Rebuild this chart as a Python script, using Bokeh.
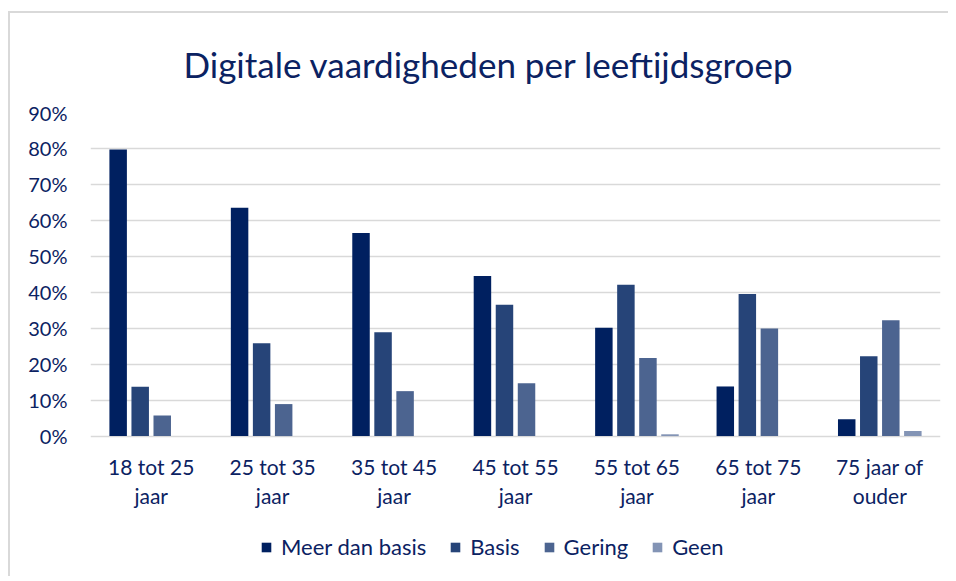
from bokeh.plotting import figure
from bokeh.models import Range1d, FixedTicker, NumeralTickFormatter, Legend, LegendItem, ColumnDataSource
from bokeh.core.properties import value
from bokeh.embed import file_html
from bokeh.resources import INLINE

title_text = "Digitale vaardigheden per leeftijdsgroep"
categories = ["18 tot 25\njaar", "25 tot 35\njaar", "35 tot 45\njaar", "45 tot 55\njaar",
              "55 tot 65\njaar", "65 tot 75\njaar", "75 jaar of\nouder"]
series_names = ["Meer dan basis", "Basis", "Gering", "Geen"]
meer_dan_basis = [0.797, 0.635, 0.565, 0.445, 0.301, 0.138, 0.047]
basis = [0.137, 0.258, 0.289, 0.365, 0.421, 0.395, 0.222]
gering = [0.057, 0.089, 0.125, 0.147, 0.217, 0.299, 0.322]
geen = [0.0, 0.0, 0.0, 0.0, 0.005, 0.0, 0.014]
y_ticks = [0.0, 0.1, 0.2, 0.3, 0.4, 0.5, 0.6, 0.7, 0.8, 0.9]

colors = ["#002060", "#264478", "#4C6490", "#8394B5"]
text_color = "#0B2262"
font = "Lato"

# layout (pixels)
W, H = 940, 565
MB_LEFT, MB_RIGHT, MB_TOP, MB_BOTTOM = 80, 10, 97, 8
PX_PER_UNIT = 361.1            # pixels for 100 %
BELOW_ZERO_PX = 135            # room under the 0 % line for labels and legend
LABEL_CENTER_PX = 45           # centre of the two-line category labels below 0 %

p = figure(width=W, height=H, output_backend="svg", toolbar_location=None,
           x_range=Range1d(0, len(categories)),
           y_range=Range1d(-BELOW_ZERO_PX / PX_PER_UNIT, y_ticks[-1]),
           min_border_left=MB_LEFT, min_border_right=MB_RIGHT,
           min_border_top=MB_TOP, min_border_bottom=MB_BOTTOM)
p.styles = {"border-top": "2px solid #d9d9d9", "border-left": "2px solid #d9d9d9",
            "position": "relative", "left": "8px", "top": "11px"}
p.outline_line_color = None
p.background_fill_color = "white"
p.border_fill_color = "white"

p.title.text = title_text
p.title.text_font = font
p.title.text_font_size = "35px"
p.title.text_font_style = "normal"
p.title.text_color = text_color
p.title.align = "left"
p.title.offset = 93
p.title.standoff = 55

pitch = 0.1815
width = 0.144
all_series = [meer_dan_basis, basis, gering, geen]
items = []
for i, (name, vals) in enumerate(zip(series_names, all_series)):
    xs = [g + 0.5 + (i - 1.5) * pitch for g in range(len(categories))]
    src = ColumnDataSource(dict(x=xs, top=vals))
    r = p.vbar(x="x", top="top", bottom=0, width=width, source=src,
               fill_color=colors[i], line_color=None)
    items.append(LegendItem(label=name, renderers=[r]))

# category labels under the bars
lab_src = ColumnDataSource(dict(x=[g + 0.5 for g in range(len(categories))],
                                y=[-LABEL_CENTER_PX / PX_PER_UNIT] * len(categories),
                                text=categories))
p.text(x="x", y="y", text="text", source=lab_src, text_align="center", text_baseline="middle",
       text_font=value(font), text_font_size="21px", text_color=text_color, text_line_height=1.15)

# grid
p.xgrid.grid_line_color = None
p.ygrid.grid_line_color = "#d9d9d9"
p.ygrid.grid_line_width = 1.5
p.ygrid.ticker = FixedTicker(ticks=y_ticks)

# y axis
p.yaxis.ticker = FixedTicker(ticks=y_ticks)
p.yaxis.formatter = NumeralTickFormatter(format="0%")
p.yaxis.axis_line_color = None
p.yaxis.major_tick_line_color = None
p.yaxis.minor_tick_line_color = None
p.yaxis.major_label_text_font = font
p.yaxis.major_label_text_font_size = "20px"
p.yaxis.major_label_text_color = text_color
p.yaxis.major_label_standoff = 17

p.xaxis.visible = False

legend = Legend(items=items, orientation="horizontal", location=(170, 10),
                label_text_font=font, label_text_font_size="22px", label_text_color=text_color,
                glyph_width=12, glyph_height=12, label_standoff=9, spacing=23,
                border_line_color=None, background_fill_alpha=0, padding=0, margin=0)
p.add_layout(legend, "center")

open("out.html", "w").write(file_html(p, INLINE))
